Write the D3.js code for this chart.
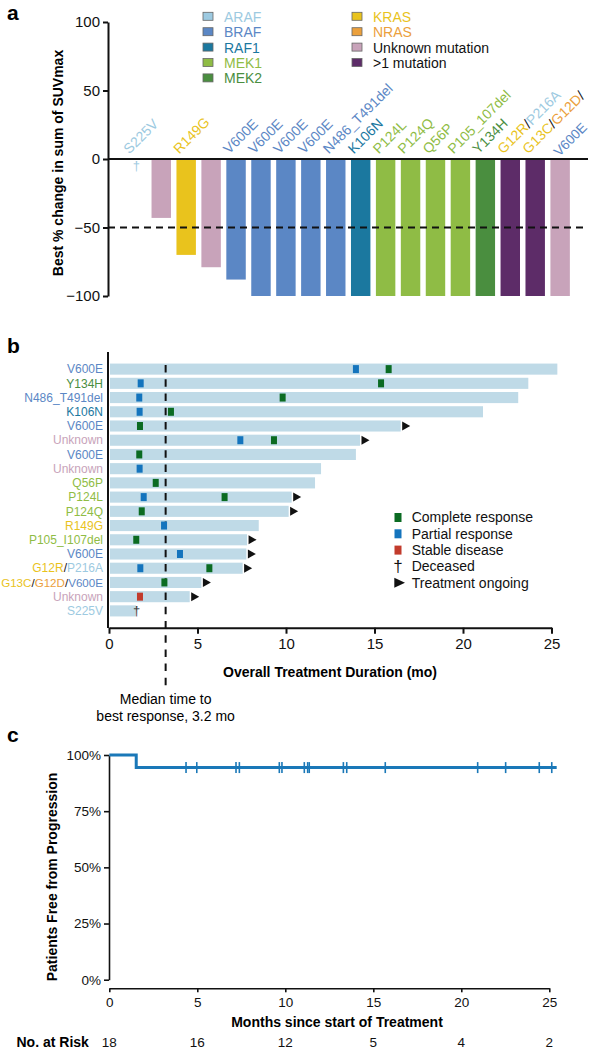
<!DOCTYPE html>
<html><head><meta charset="utf-8">
<script src="https://cdn.jsdelivr.net/npm/d3@7"></script>
<style>
body{margin:0;background:#fff}
svg{display:block;font-family:"Liberation Sans",Arial,Helvetica,sans-serif}
</style>
</head><body>
<svg id="chart" width="591" height="1050"></svg>
<script>
// ---------- Panel a data ----------
const aLabels = ["S225V","","R149G","","V600E","V600E","V600E","V600E","N486_T491del","K106N","P124L","P124Q","Q56P","P105_107del","Y134H","G12R/P216A","G13C/G12D/","V600E"];
const aGroups = ["ARAF","Unknown","KRAS","Unknown","BRAF","BRAF","BRAF","BRAF","BRAF","RAF1","MEK1","MEK1","MEK1","MEK1","MEK2",">1",">1","Unknown"];
const aValues = [null,-43,-70,-79,-88,-100,-100,-100,-100,-100,-100,-100,-100,-100,-100,-100,-100,-100];
const aTicks = [100,50,0,-50,-100];
const aThreshold = -50;
const geneNames = ["ARAF","BRAF","RAF1","MEK1","MEK2","KRAS","NRAS","Unknown",">1"];
const geneLegend = ["ARAF","BRAF","RAF1","MEK1","MEK2","KRAS","NRAS","Unknown mutation",">1 mutation"];
const geneFill = ["#9dcae1","#5b87c5","#1b789f","#8fbc45","#4a8e3f","#e9c31d","#eba03c","#c8a3ba","#5d2c68"];
const geneLegendText = ["#9dcae1","#5b87c5","#1b789f","#8fbc45","#4a8e3f","#e9c31d","#eba03c","#111","#111"];
const mutGene = {S225V:"ARAF",P216A:"ARAF",V600E:"BRAF",N486_T491del:"BRAF",K106N:"RAF1",P124L:"MEK1",P124Q:"MEK1",Q56P:"MEK1",P105_107del:"MEK1",P105_I107del:"MEK1",Y134H:"MEK2",R149G:"KRAS",G12R:"KRAS",G13C:"KRAS",G12D:"NRAS",Unknown:"Unknown"};

// ---------- Panel b data ----------
const bLabels = ["V600E","Y134H","N486_T491del","K106N","V600E","Unknown","V600E","Unknown","Q56P","P124L","P124Q","R149G","P105_I107del","V600E","G12R/P216A","G13C/G12D/V600E","Unknown","S225V"];
const bDurations = [25.33,23.69,23.12,21.13,16.48,14.18,13.95,11.98,11.64,10.32,10.15,8.46,7.80,7.76,7.55,5.22,4.56,1.53];
const bOngoing = [0,0,0,0,1,1,0,0,0,1,1,0,1,1,1,1,1,0];
const bDeceased = [0,0,0,0,0,0,0,0,0,0,0,0,0,0,0,0,0,1];
const bCR = [15.8,15.37,9.81,3.5,1.75,9.32,1.71,null,2.64,6.53,1.85,null,1.54,null,5.67,3.13,null,null];
const bPR = [13.95,1.79,1.71,1.73,null,7.42,null,1.73,null,1.96,null,3.11,null,4.01,1.77,null,null,null];
const bSD = [null,null,null,null,null,null,null,null,null,null,null,null,null,null,null,null,1.75,null];
const bTicks = [0,5,10,15,20,25];
const bMedian = 3.2;
const bLegend = ["Complete response","Partial response","Stable disease","Deceased","Treatment ongoing"];
const respColors = {CR:"#0b6b22",PR:"#1474bd",SD:"#c23b2c"};

// ---------- Panel c data ----------
const kmTimes = [0,1.53,25.42];
const kmSurv = [1,0.944,0.944];
const censorTimes = [4.36,4.97,7.2,7.39,9.66,9.81,11.08,11.27,11.36,13.3,13.49,15.68,20.93,22.52,24.43,25.14];
const cYTicks = [0,0.25,0.5,0.75,1];
const cXTicks = [0,5,10,15,20,25];
const riskCounts = [18,16,12,5,4,2];

const svg = d3.select("#chart");
const gc = g => geneFill[geneNames.indexOf(g)];

function styleAxis(g, fs, sw){
  g.attr("font-family",null).attr("font-size",null);
  g.selectAll("text").attr("fill","#111").attr("font-size",fs);
  g.selectAll("line").attr("stroke","#111").attr("stroke-width",sw);
  g.select(".domain").attr("stroke","#111").attr("stroke-width",sw);
}
function colorSegments(textSel, label){
  const parts = label.split("/");
  parts.forEach((p,i)=>{
    if(p) textSel.append("tspan").attr("fill", gc(mutGene[p])).text(p);
    if(i<parts.length-1) textSel.append("tspan").attr("fill","#111").text("/");
  });
}

// panel letters
[["a",19.5],["b",353],["c",742]].forEach(([t,y])=>{
  svg.append("text").attr("x",7).attr("y",y).attr("font-size",21).attr("font-weight","bold").text(t);
});

// ================= Panel a =================
const ya = d3.scaleLinear().domain([-100,100]).range([296,22]);
const xa = d3.scaleBand().domain(d3.range(aValues.length)).range([123.86,572.6]).paddingInner(0.22).paddingOuter(0.11);

const axA = svg.append("g").attr("transform","translate(108,0)")
  .call(d3.axisLeft(ya).tickValues(aTicks).tickSize(5).tickSizeOuter(0).tickPadding(3));
styleAxis(axA,15,2);

svg.append("text").attr("transform","translate(63,163) rotate(-90)")
  .attr("text-anchor","middle").attr("font-size",14).attr("font-weight","bold")
  .text("Best % change in sum of SUVmax");

svg.append("g").selectAll("rect").data(aValues.map((v,i)=>({v,i})).filter(d=>d.v!==null))
  .join("rect")
  .attr("x",d=>xa(d.i)).attr("width",xa.bandwidth())
  .attr("y",ya(0)+1).attr("height",d=>ya(d.v)-ya(0)-1)
  .attr("fill",d=>gc(aGroups[d.i]));

svg.append("line").attr("x1",108).attr("x2",588).attr("y1",ya(0)).attr("y2",ya(0))
  .attr("stroke","#111").attr("stroke-width",2);
svg.append("line").attr("x1",108).attr("x2",588).attr("y1",ya(aThreshold)).attr("y2",ya(aThreshold))
  .attr("stroke","#111").attr("stroke-width",2).attr("stroke-dasharray","7,5");

// deceased dagger
aValues.forEach((v,i)=>{
  if(v===null){
    svg.append("text").attr("x",xa(i)+xa.bandwidth()/2).attr("y",ya(0)+11)
      .attr("text-anchor","middle").attr("font-size",13).attr("fill",gc(aGroups[i])).text("\u2020");
  }
});
// labels
aLabels.forEach((lab,i)=>{
  if(!lab) return;
  const cx = xa(i)+xa.bandwidth()/2;
  const cont = i>0 && aLabels[i-1].endsWith("/");
  const tx = cont ? cx-1 : cx-7, ty = cont ? 157 : 154.5;
  const t = svg.append("text").attr("transform",`translate(${tx},${ty}) rotate(-45)`).attr("font-size",cont?13.5:14);
  colorSegments(t, lab);
});

// legend a
geneLegend.forEach((name,i)=>{
  const col = i<5 ? 0 : 1, row = i<5 ? i : i-5;
  const sx = col===0 ? 203 : 352, tx = col===0 ? 224 : 373;
  const cy = 16.3 + row*15.4;
  svg.append("rect").attr("x",sx).attr("y",cy-4).attr("width",10).attr("height",8)
    .attr("fill",geneFill[i]).attr("stroke","#666").attr("stroke-width",0.8);
  svg.append("text").attr("x",tx).attr("y",cy+5.5).attr("font-size",14).attr("fill",geneLegendText[i]).text(name);
});

// ================= Panel b =================
const xb = d3.scaleLinear().domain([0,25]).range([109,551.5]);
const yb = d3.scaleBand().domain(d3.range(bLabels.length)).range([362,618]).paddingInner(0.22).paddingOuter(0.11);
const rc = i => yb(i)+yb.bandwidth()/2;

svg.append("g").selectAll("rect").data(bDurations).join("rect")
  .attr("x",xb(0)+1).attr("y",(d,i)=>yb(i)).attr("height",yb.bandwidth())
  .attr("width",d=>xb(d)-xb(0)-1).attr("fill","#bfdae7");

// median line
svg.append("line").attr("x1",xb(bMedian)).attr("x2",xb(bMedian)).attr("y1",365).attr("y2",690)
  .attr("stroke","#111").attr("stroke-width",2).attr("stroke-dasharray","7.5,6.72");

// response markers
[["CR",bCR],["PR",bPR],["SD",bSD]].forEach(([k,arr])=>{
  arr.forEach((m,i)=>{
    if(m===null) return;
    svg.append("rect").attr("x",xb(m)-3).attr("y",rc(i)-4).attr("width",6).attr("height",8).attr("fill",respColors[k]);
  });
});
// ongoing arrows & dagger
bDurations.forEach((d,i)=>{
  const x0 = xb(d)+1.5, cy = rc(i);
  if(bOngoing[i]) svg.append("path").attr("d",`M${x0},${cy-4.5}L${x0+8},${cy}L${x0},${cy+4.5}Z`).attr("fill","#111");
  if(bDeceased[i]) svg.append("text").attr("x",xb(d)+0.5).attr("y",cy+4.5).attr("text-anchor","middle")
    .attr("font-size",13).attr("fill","#333").text("\u2020");
});
// row labels
bLabels.forEach((lab,i)=>{
  const t = svg.append("text").attr("x",103).attr("y",rc(i)).attr("dy","0.35em")
    .attr("text-anchor","end").attr("font-size",12);
  colorSegments(t, lab);
  const w = t.node().getComputedTextLength();
  if(w > 102) t.attr("font-size", 12*102/w);
});
// axes
svg.append("line").attr("x1",108).attr("x2",108).attr("y1",352).attr("y2",628).attr("stroke","#111").attr("stroke-width",2);
const axB = svg.append("g").attr("transform","translate(0,627.7)")
  .call(d3.axisBottom(xb).tickValues(bTicks).tickSize(6).tickSizeOuter(0).tickPadding(5));
styleAxis(axB,15,2);
svg.append("text").attr("x",330).attr("y",677).attr("text-anchor","middle").attr("font-size",14)
  .attr("font-weight","bold").text("Overall Treatment Duration (mo)");
svg.append("text").attr("x",xb(bMedian)).attr("y",703.5).attr("text-anchor","middle").attr("font-size",14).text("Median time to");
svg.append("text").attr("x",xb(bMedian)).attr("y",720.5).attr("text-anchor","middle").attr("font-size",14).text("best response, " + bMedian + " mo");

// legend b
bLegend.forEach((name,i)=>{
  const by = 522.3 + i*16.3, cy = by-4.8;
  if(i<3){
    svg.append("rect").attr("x",394.5).attr("y",cy-4.5).attr("width",7).attr("height",9).attr("fill",respColors[["CR","PR","SD"][i]]);
  } else if(i===3){
    svg.append("text").attr("x",398).attr("y",by+1).attr("text-anchor","middle").attr("font-size",17).attr("fill","#111").text("\u2020");
  } else {
    svg.append("path").attr("d",`M394.3,${cy-5}L405,${cy}L394.3,${cy+5}Z`).attr("fill","#111");
  }
  svg.append("text").attr("x",411.7).attr("y",by).attr("font-size",14).attr("fill","#111").text(name);
});

// ================= Panel c =================
const xc = d3.scaleLinear().domain([0,25]).range([109.3,549.3]);
const yc = d3.scaleLinear().domain([0,1]).range([979.7,755]);

const axCY = svg.append("g").attr("transform","translate(109,0)")
  .call(d3.axisLeft(yc).tickValues(cYTicks).tickFormat(d3.format(".0%")).tickSize(5).tickSizeOuter(0).tickPadding(3));
styleAxis(axCY,13.5,1.6);
const axCX = svg.append("g").attr("transform","translate(0,988.3)")
  .call(d3.axisBottom(xc).tickValues(cXTicks).tickSize(4).tickSizeOuter(0).tickPadding(5));
styleAxis(axCX,13.5,1.6);

svg.append("text").attr("transform","translate(57,877) rotate(-90)").attr("text-anchor","middle")
  .attr("font-size",14).attr("font-weight","bold").text("Patients Free from Progression");
svg.append("text").attr("x",337).attr("y",1027).attr("text-anchor","middle").attr("font-size",14)
  .attr("font-weight","bold").text("Months since start of Treatment");

const kmPts = kmTimes.map((t,i)=>[t,kmSurv[i]]);
svg.append("path").attr("d",d3.line().curve(d3.curveStepAfter).x(d=>xc(d[0])).y(d=>yc(d[1]))(kmPts))
  .attr("fill","none").attr("stroke","#1a78b8").attr("stroke-width",3);
svg.append("g").selectAll("line").data(censorTimes).join("line")
  .attr("x1",d=>xc(d)).attr("x2",d=>xc(d)).attr("y1",yc(kmSurv[1])-5.5).attr("y2",yc(kmSurv[1])+5.5)
  .attr("stroke","#1a78b8").attr("stroke-width",1.6);

svg.append("text").attr("x",16.5).attr("y",1047).attr("font-size",14).attr("font-weight","bold").text("No. at Risk");
svg.append("g").selectAll("text").data(riskCounts).join("text")
  .attr("x",(d,i)=>xc(cXTicks[i])).attr("y",1047).attr("text-anchor","middle").attr("font-size",13.5).attr("fill","#111")
  .text(d=>d);
</script>
</body></html>
